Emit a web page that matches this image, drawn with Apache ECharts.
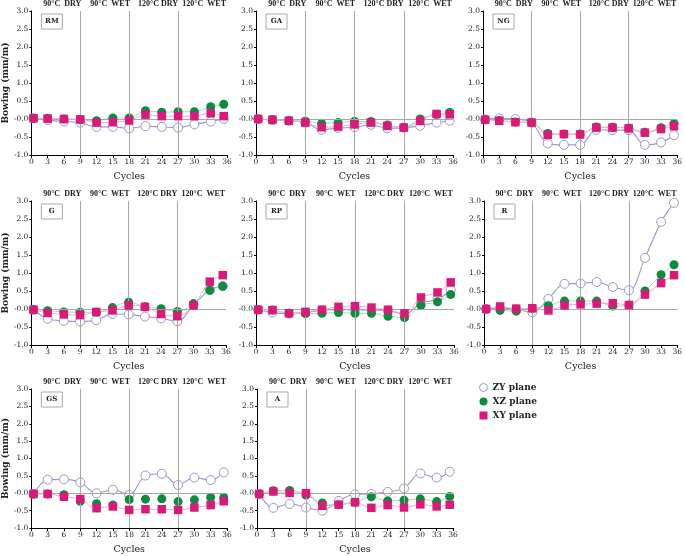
<!DOCTYPE html>
<html><head><meta charset="utf-8">
<script src="https://cdn.jsdelivr.net/npm/echarts@6/dist/echarts.min.js"></script>
<style>html,body{margin:0;padding:0;background:#fff}#c{width:685px;height:556px}</style>
</head><body><div id="c"></div>
<script>
// cycle positions of the measured points
var cycles = [0.4, 3, 6, 9, 12, 15, 18, 21, 24, 27, 30, 33, 35.4];
var xTicks = [0, 3, 6, 9, 12, 15, 18, 21, 24, 27, 30, 33, 36];
var yTicks = [-1.0, -0.5, 0.0, 0.5, 1.0, 1.5, 2.0, 2.5, 3.0];
var phaseLabels = ['90°C  DRY', '90°C  WET', '120°C DRY', '120°C  WET'];
var phaseCenters = [5.7, 14.5, 23.3, 31.8];
var phaseBounds = [9, 18, 27];
var seriesNames = ['ZY plane', 'XZ plane', 'XY plane'];
var panelNames = ['RM', 'GA', 'NG', 'G', 'RP', 'R', 'GS', 'A'];

var rm_zy = [0.02, -0.03, -0.07, -0.1, -0.22, -0.22, -0.26, -0.2, -0.22, -0.24, -0.15, -0.07, 0.0];
var rm_xz = [0.02, 0.02, 0.0, -0.02, -0.05, 0.03, 0.03, 0.23, 0.19, 0.2, 0.2, 0.34, 0.41];
var rm_xy = [0.02, 0.01, 0.0, -0.01, -0.1, -0.09, -0.04, 0.12, 0.08, 0.08, 0.08, 0.16, 0.08];

var ga_zy = [0.0, -0.03, -0.05, -0.1, -0.3, -0.25, -0.23, -0.16, -0.26, -0.24, -0.19, -0.1, -0.05];
var ga_xz = [0.0, -0.02, -0.05, -0.06, -0.12, -0.1, -0.07, -0.07, -0.17, -0.23, 0.0, 0.13, 0.18];
var ga_xy = [0.0, -0.02, -0.05, -0.1, -0.23, -0.21, -0.15, -0.1, -0.19, -0.24, -0.05, 0.14, 0.13];

var ng_zy = [-0.01, 0.02, 0.0, -0.1, -0.68, -0.72, -0.72, -0.3, -0.31, -0.31, -0.72, -0.65, -0.45];
var ng_xz = [-0.02, -0.04, -0.08, -0.09, -0.4, -0.42, -0.42, -0.22, -0.23, -0.25, -0.37, -0.24, -0.13];
var ng_xy = [-0.02, -0.05, -0.09, -0.1, -0.44, -0.42, -0.43, -0.24, -0.24, -0.26, -0.38, -0.28, -0.2];

var g_zy = [-0.02, -0.27, -0.33, -0.35, -0.31, -0.14, -0.15, -0.21, -0.26, -0.34, 0.12, 0.53, 0.64];
var g_xz = [-0.02, -0.05, -0.08, -0.09, -0.09, 0.04, 0.19, 0.06, 0.01, -0.07, 0.15, 0.52, 0.63];
var g_xy = [-0.02, -0.11, -0.15, -0.17, -0.08, -0.04, 0.1, 0.06, -0.14, -0.2, 0.1, 0.76, 0.94];

var rp_zy = [-0.02, -0.1, -0.13, -0.1, -0.03, -0.02, -0.02, -0.03, -0.04, -0.15, 0.16, 0.27, 0.52];
var rp_xz = [-0.02, -0.03, -0.12, -0.13, -0.12, -0.1, -0.12, -0.12, -0.2, -0.24, 0.1, 0.2, 0.4];
var rp_xy = [-0.02, -0.03, -0.12, -0.08, -0.02, 0.06, 0.08, 0.04, -0.02, -0.12, 0.32, 0.46, 0.74];

var r_zy = [0.0, 0.02, -0.01, -0.09, 0.28, 0.7, 0.71, 0.75, 0.61, 0.52, 1.42, 2.42, 2.95];
var r_xz = [0.0, -0.04, -0.06, 0.02, 0.09, 0.22, 0.22, 0.22, 0.08, 0.11, 0.5, 0.95, 1.23];
var r_xy = [0.0, 0.07, 0.01, 0.02, -0.04, 0.1, 0.13, 0.15, 0.16, 0.11, 0.4, 0.72, 0.94];

var gs_zy = [-0.02, 0.39, 0.4, 0.31, 0.0, 0.1, -0.05, 0.51, 0.56, 0.24, 0.45, 0.38, 0.6];
var gs_xz = [-0.02, -0.02, -0.04, -0.23, -0.3, -0.34, -0.18, -0.17, -0.16, -0.24, -0.19, -0.12, -0.12];
var gs_xy = [-0.02, -0.02, -0.1, -0.17, -0.43, -0.38, -0.48, -0.46, -0.46, -0.48, -0.41, -0.34, -0.23];

var a_zy = [-0.02, -0.42, -0.31, -0.41, -0.5, -0.22, -0.03, -0.02, 0.04, 0.14, 0.57, 0.45, 0.62];
var a_xz = [-0.02, 0.07, 0.08, -0.05, -0.28, -0.33, -0.26, -0.1, -0.22, -0.2, -0.16, -0.24, -0.09];
var a_xy = [-0.02, 0.05, 0.01, 0.0, -0.36, -0.33, -0.26, -0.42, -0.34, -0.41, -0.32, -0.38, -0.33];

var panelData = [
  [rm_zy, rm_xz, rm_xy], [ga_zy, ga_xz, ga_xy], [ng_zy, ng_xz, ng_xy],
  [g_zy, g_xz, g_xy], [rp_zy, rp_xz, rp_xy], [r_zy, r_xz, r_xy],
  [gs_zy, gs_xz, gs_xy], [a_zy, a_xz, a_xy]
];

var gridBoxes = [
  {left: 29, top: 11, width: 198, height: 144},
  {left: 256, top: 11, width: 197, height: 144},
  {left: 483, top: 11, width: 199, height: 144},
  {left: 28, top: 201, width: 198, height: 144},
  {left: 256, top: 201, width: 198, height: 144},
  {left: 484, top: 201, width: 198, height: 144},
  {left: 29, top: 389, width: 198, height: 143},
  {left: 257, top: 389, width: 196, height: 143}
];

var FONT = 'DejaVu Serif';
var FONT2 = 'Liberation Serif';
var lineColors = ['#9b97cc', '#a6dcb2', '#f3a9c9'];
var markColors = ['#ffffff', '#0f8a3f', '#d81b7a'];
var symbols = ['circle', 'circle', 'rect'];

function pairs(ys) { return ys.map(function (v, i) { return [cycles[i], v]; }); }

var grids = [], xAxes = [], yAxes = [], series = [];
gridBoxes.forEach(function (b, p) {
  grids.push({left: b.left, top: b.top, width: b.width, height: b.height, containLabel: false});
  xAxes.push({
    type: 'value', gridIndex: p, min: 0, max: 36, interval: 3,
    name: 'Cycles', nameLocation: 'middle', nameGap: 17,
    nameTextStyle: {fontFamily: FONT, fontSize: 9.5, color: '#222'},
    axisLine: {onZero: false, lineStyle: {color: '#000', width: 1}},
    axisTick: {length: 3, lineStyle: {color: '#000'}},
    axisLabel: {fontFamily: FONT, fontSize: 7.5, color: '#222', margin: 3},
    splitLine: {show: false}
  });
  yAxes.push({
    type: 'value', gridIndex: p, min: -1, max: 3, interval: 0.5,
    name: (p % 3 === 0) ? 'Bowing (mm/m)' : '', nameLocation: 'middle', nameGap: 21,
    nameTextStyle: {fontFamily: FONT, fontSize: 9, fontWeight: 'bold', color: '#222'},
    axisLine: {show: true, lineStyle: {color: '#000', width: 1}},
    axisTick: {show: true, length: 2, lineStyle: {color: '#000'}},
    axisLabel: {fontFamily: FONT, fontSize: 7.5, color: '#222', margin: 3,
      formatter: function (v) { return Math.abs(v) < 1e-9 ? '-0.0' : v.toFixed(1); }},
    splitLine: {show: false}
  });
  panelData[p].forEach(function (ys, s) {
    var ser = {
      name: seriesNames[s], type: 'line', xAxisIndex: p, yAxisIndex: p,
      data: pairs(ys), smooth: 0.35, symbol: symbols[s],
      symbolSize: s === 2 ? 8.5 : 9, showSymbol: true, clip: false,
      lineStyle: {color: lineColors[s], width: s === 0 ? 1.1 : 1, opacity: (p === 6 && s === 1) ? 0 : 1},
      itemStyle: s === 0 ? {color: '#fff', borderColor: '#9b97cc', borderWidth: 1}
                         : {color: markColors[s], borderWidth: 0},
      z: 3 + s
    };
    if (s === 0) {
      ser.markLine = {
        silent: true, symbol: ['none', 'none'], label: {show: false},
        lineStyle: {color: '#a8a8a8', type: 'solid', width: 1},
        data: phaseBounds.map(function (c) { return {xAxis: c}; }).concat([{yAxis: 0}])
      };
    }
    series.push(ser);
  });
});

var chart = echarts.init(document.getElementById('c'), null, {renderer: 'canvas'});
chart.setOption({
  animation: false,
  grid: grids, xAxis: xAxes, yAxis: yAxes, series: series,
  legend: {
    data: [
      {name: 'ZY plane', icon: 'circle', itemStyle: {color: '#fff', borderColor: '#9b97cc', borderWidth: 1}},
      {name: 'XZ plane', icon: 'circle', itemStyle: {color: '#0f8a3f'}},
      {name: 'XY plane', icon: 'rect', itemStyle: {color: '#d81b7a'}}
    ],
    orient: 'vertical', left: 474, top: 378, itemWidth: 8, itemHeight: 8, itemGap: 5,
    textStyle: {fontFamily: FONT, fontSize: 9, fontWeight: 'bold', color: '#222'},
    selectedMode: false
  }
});

var graphics = [];
gridBoxes.forEach(function (b, p) {
  var topY = chart.convertToPixel({yAxisIndex: p}, 3);
  phaseLabels.forEach(function (t, k) {
    var x = chart.convertToPixel({xAxisIndex: p}, phaseCenters[k]);
    graphics.push({type: 'text', x: x, y: topY - 7, style: {text: t, fontFamily: FONT2, fontSize: 8,
      fontWeight: 'bold', fill: '#222', align: 'center', verticalAlign: 'middle'}});
  });
  var bx = chart.convertToPixel({xAxisIndex: p}, 0) + 10;
  graphics.push({type: 'rect', shape: {x: bx, y: topY + 3, width: 21, height: 15},
    style: {fill: '#fff', stroke: '#aaa', lineWidth: 1}, z: 10});
  graphics.push({type: 'text', x: bx + 10.5, y: topY + 10.5, z: 11, style: {text: panelNames[p], fontFamily: FONT,
    fontSize: 7, fontWeight: 'bold', fill: '#222', align: 'center', verticalAlign: 'middle'}});
});
chart.setOption({graphic: graphics});
</script></body></html>
